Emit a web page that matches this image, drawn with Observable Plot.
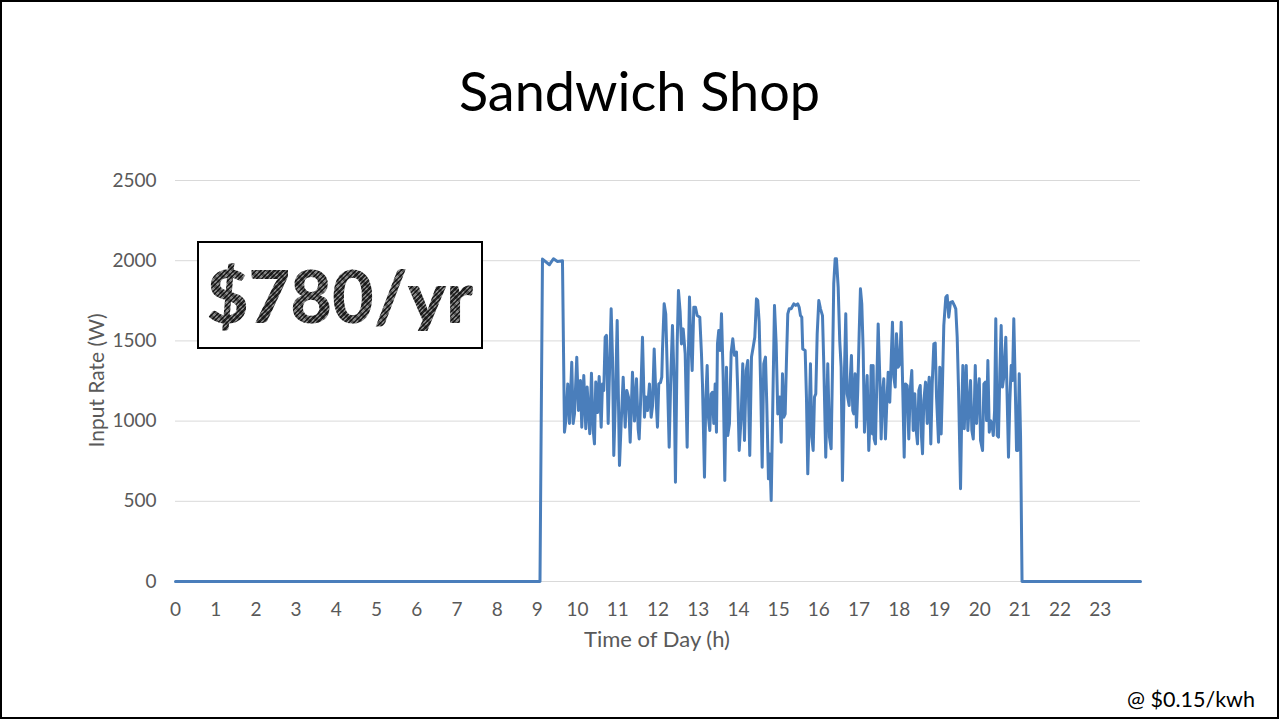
<!DOCTYPE html>
<html>
<head>
<meta charset="utf-8">
<script src="https://cdn.jsdelivr.net/npm/d3@7"></script>
<script src="https://cdn.jsdelivr.net/npm/@observablehq/plot@0.6"></script>
<style>
  html, body { margin: 0; padding: 0; background: #fff; }
  #page { position: relative; width: 1279px; height: 719px; overflow: hidden; font-family: Lato, "Open Sans", sans-serif; }
  #page svg { position: absolute; left: 0; top: 0; }
  #frame { position: absolute; left: 0; top: 0; width: 1279px; height: 719px; box-sizing: border-box; border: 2px solid #000; pointer-events: none; }
  #title { position: absolute; left: 0; top: 64px; width: 1279px; text-align: center; font-size: 54px; line-height: 54px; color: #000; }
  #xlabel { position: absolute; left: 457px; top: 628px; width: 400px; text-align: center; font-size: 22px; line-height: 22px; color: #595959; }
  #ylabel { position: absolute; left: -105px; top: 370px; width: 400px; text-align: center; font-size: 21px; line-height: 21px; color: #595959; transform: rotate(-90deg); }
  #note { position: absolute; right: 24px; top: 688px; font-size: 21.5px; line-height: 22px; color: #000; }
  #badge { position: absolute; left: 197px; top: 241px; width: 286px; height: 108px; box-sizing: border-box; border: 2px solid #000; background: #fff; display: flex; align-items: center; justify-content: center; }
  #badge span {
    font-weight: 900; font-size: 72px; line-height: 72px;
    background:
      repeating-linear-gradient(45deg, rgba(0,0,0,0.35) 0 3px, rgba(0,0,0,0) 3px 6px),
      repeating-linear-gradient(-45deg, #262626 0 1.6px, #858585 1.6px 3.2px);
    -webkit-background-clip: text; background-clip: text; color: transparent;
  }
</style>
</head>
<body>
<div id="page">
  <div id="title">Sandwich Shop</div>
  <div id="xlabel">Time of Day (h)</div>
  <div id="ylabel">Input Rate (W)</div>
  <div id="badge"><span>$780/yr</span></div>
  <div id="note">@ $0.15/kwh</div>
  <div id="frame"></div>
</div>
<script>
// Power draw of the shop over one day (hour of day, watts)
const hours = [
  0, 9.065, 9.127, 9.30, 9.40, 9.50, 9.624, 9.674, 9.706, 9.756, 9.798, 9.855, 9.890, 9.923, 9.980,
  10.022, 10.072, 10.104, 10.154, 10.204, 10.238, 10.303, 10.345, 10.388, 10.420, 10.452, 10.495, 10.537, 10.587, 10.619, 10.651, 10.686, 10.718, 10.761, 10.835, 10.868, 10.900, 10.942, 10.985,
  11.042, 11.084, 11.134, 11.184, 11.223, 11.266, 11.308, 11.365, 11.415, 11.465, 11.507, 11.532, 11.564, 11.614, 11.664, 11.696, 11.738, 11.788, 11.830, 11.862, 11.905, 11.945, 11.987,
  12.019, 12.061, 12.094, 12.111, 12.153, 12.193, 12.228, 12.278, 12.318, 12.360, 12.402, 12.434, 12.477, 12.509, 12.551, 12.584, 12.626, 12.676, 12.725, 12.758, 12.783, 12.815, 12.850, 12.890, 12.932, 12.974,
  13.039, 13.081, 13.106, 13.156, 13.188, 13.223, 13.255, 13.288, 13.323, 13.355, 13.387, 13.422, 13.454, 13.479, 13.511, 13.546, 13.579, 13.621, 13.661, 13.703, 13.735, 13.777, 13.820, 13.860, 13.902, 13.952, 13.984,
  14.019, 14.068, 14.108, 14.151, 14.193, 14.233, 14.282, 14.325, 14.367, 14.407, 14.449, 14.481, 14.516, 14.556, 14.591, 14.630, 14.673, 14.705, 14.747, 14.780, 14.815, 14.855, 14.897, 14.939, 14.979,
  15.029, 15.064, 15.096, 15.128, 15.163, 15.195, 15.228, 15.263, 15.312, 15.377, 15.426, 15.476, 15.511, 15.543, 15.576, 15.600, 15.660, 15.692, 15.725, 15.760, 15.792, 15.825, 15.859, 15.892, 15.924, 15.959, 15.999,
  16.041, 16.091, 16.123, 16.172, 16.222, 16.264, 16.306, 16.339, 16.371, 16.406, 16.438, 16.481, 16.520, 16.555, 16.587, 16.630, 16.670, 16.704, 16.754, 16.779, 16.811, 16.844, 16.869, 16.903, 16.936, 16.968,
  17.003, 17.035, 17.068, 17.103, 17.135, 17.167, 17.202, 17.242, 17.277, 17.302, 17.334, 17.351, 17.376, 17.408, 17.441, 17.476, 17.516, 17.550, 17.583, 17.615, 17.657, 17.690, 17.725, 17.764, 17.799, 17.831, 17.864, 17.899, 17.931, 17.973,
  18.013, 18.048, 18.088, 18.123, 18.155, 18.197, 18.237, 18.272, 18.312, 18.347, 18.387, 18.422, 18.454, 18.487, 18.522, 18.554, 18.579, 18.611, 18.654, 18.696, 18.711, 18.746, 18.785, 18.820, 18.860, 18.895, 18.927, 18.977,
  19.008, 19.043, 19.075, 19.108, 19.158, 19.192, 19.231, 19.274, 19.324, 19.373, 19.406, 19.441, 19.475, 19.524, 19.557, 19.582, 19.617, 19.666, 19.706, 19.741, 19.773, 19.806, 19.841, 19.873, 19.891, 19.923, 19.955, 19.990,
  20.022, 20.072, 20.105, 20.140, 20.172, 20.204, 20.239, 20.271, 20.303, 20.339, 20.371, 20.401, 20.436, 20.468, 20.501, 20.535, 20.567, 20.600, 20.650, 20.685, 20.717, 20.749, 20.784, 20.817, 20.849, 20.884, 20.917, 20.949, 20.984, 21.017, 21.054, 24
];
const watts = [
  0, 0, 2010, 1975, 2012, 1995, 2000, 931, 1000, 1232, 985, 1367, 985, 1045, 1398,
  1066, 1253, 962, 1284, 952, 1212, 921, 1299, 945, 858, 1243, 1053, 1278, 962, 1232, 1191, 1523, 1534, 985, 1700, 1400, 786, 1150, 1627,
  723, 985, 1274, 962, 1191, 1150, 868, 1305, 1000, 1264, 950, 889, 1100, 1523, 1024, 1150, 1066, 1232, 1024, 1090, 1450, 1170, 962,
  1232, 1240, 1274, 1440, 1731, 1668, 1336, 837, 1274, 1596, 1232, 619, 1481, 1814, 1679, 1481, 1575, 1420, 837, 1440, 1773, 1500, 1315, 1710, 1710, 1658,
  1648, 1420, 1232, 650, 1130, 1347, 1024, 941, 1170, 1180, 985, 1232, 931, 1482, 1565, 1440, 1669, 1270, 630, 1336, 910, 985, 1430, 1513, 1410, 1430, 1180,
  817, 1024, 1357, 879, 1315, 1378, 786, 1400, 1461, 1523, 1762, 1752, 1617, 1190, 712, 1357, 1399, 1110, 640, 795, 505, 1107, 1721, 1480, 1045,
  1150, 868, 1295, 1024, 1045, 1378, 1669, 1700, 1700, 1731, 1721, 1731, 1710, 1658, 1648, 1450, 1440, 1150, 671, 1024, 1357, 900, 817, 1150, 1170, 1544, 1752,
  1700, 1658, 1357, 775, 1357, 900, 827, 1315, 1857, 2012, 2012, 1835, 1500, 1336, 630, 1232, 1669, 1170, 1097, 1253, 1409, 1066, 1045, 1295, 962, 1191,
  1544, 1825, 1731, 1440, 931, 1090, 1284, 817, 1024, 1347, 920, 1347, 889, 858, 1232, 1606, 1274, 889, 1170, 1264, 889, 1107, 1305, 1118, 1378, 1617, 1274, 1212, 1544, 1336,
  1357, 1617, 1191, 775, 1232, 1222, 889, 1191, 1315, 941, 1170, 941, 858, 1191, 1222, 900, 796, 1128, 1243, 985, 1170, 1274, 858, 1232, 1482, 1486, 1150, 868,
  1336, 920, 1232, 1596, 1773, 1783, 1648, 1740, 1745, 1720, 1700, 1523, 1191, 578, 1090, 1347, 952, 1347, 941, 1107, 1253, 941, 889, 1150, 1347, 985, 1170, 1264,
  879, 817, 1232, 1243, 1003, 1378, 931, 1003, 983, 910, 1066, 1638, 910, 900, 1295, 1596, 1212, 1274, 1523, 1128, 775, 1118, 1347, 1253, 1638, 1232, 817, 817, 1295, 900, 0, 0
];
const xTicks = d3.range(0, 24);            // 0 … 23
const yTicks = [0, 500, 1000, 1500, 2000, 2500];

const readings = hours.map((h, i) => ({hour: h, watts: watts[i]}));

const chart = Plot.plot({
  width: 1279,
  height: 719,
  marginLeft: 175,
  marginRight: 139,
  marginTop: 180,
  marginBottom: 138,
  style: {fontFamily: "Lato, 'Open Sans', sans-serif", fontSize: "19px", color: "#595959", background: "transparent"},
  x: {domain: [0, 24]},
  y: {domain: [0, 2500]},
  marks: [
    Plot.gridY(yTicks, {stroke: "#d9d9d9", strokeOpacity: 1, strokeWidth: 1}),
    Plot.axisX(xTicks, {tickSize: 0, tickPadding: 21, label: null, tickFormat: d => String(d)}),
    Plot.axisY(yTicks, {tickSize: 0, tickPadding: 19, label: null, tickFormat: d => String(d)}),
    Plot.line(readings, {x: "hour", y: "watts", stroke: "#4a7ebb", strokeWidth: 3, strokeLinejoin: "round", strokeLinecap: "round"})
  ]
});

const page = document.getElementById("page");
page.insertBefore(chart, page.firstChild);
</script>
</body>
</html>
